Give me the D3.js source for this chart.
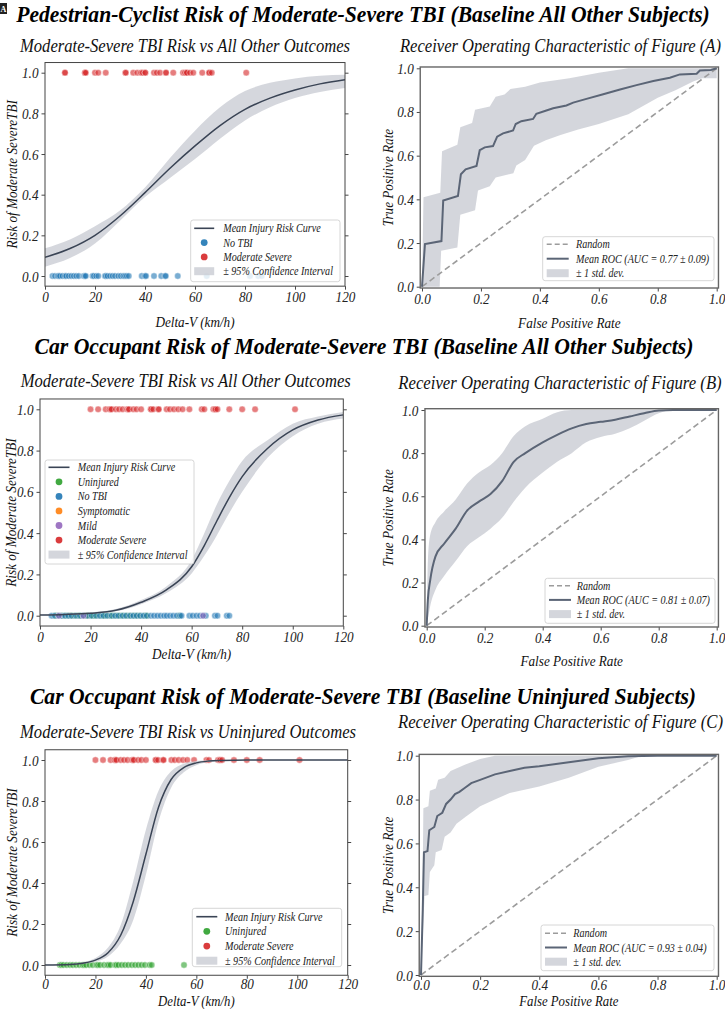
<!DOCTYPE html>
<html><head><meta charset="utf-8">
<script src="https://cdn.jsdelivr.net/npm/d3@7"></script>
<style>
body{margin:0;background:#fff}
svg{display:block}
text{font-family:"Liberation Serif","Times New Roman",Times,serif}
</style>
</head><body>
<svg id="c" width="725" height="1009"></svg>
<script>
// ---------------- DATA ----------------
const deltaVTicks = [0,20,40,60,80,100,120];
const unitTicks = [0,0.2,0.4,0.6,0.8,1.0];

// Panel A – Pedestrian-Cyclist
const gridA = [0,10,20,30,40,50,60,70,80,90,100,110,120];
const meanA = [0.092,0.135,0.2,0.295,0.41,0.53,0.64,0.74,0.82,0.875,0.915,0.945,0.965];
const lowA  = [0.046,0.088,0.16,0.272,0.388,0.482,0.575,0.675,0.765,0.83,0.875,0.905,0.925];
const highA = [0.136,0.18,0.245,0.322,0.435,0.58,0.715,0.83,0.91,0.95,0.972,0.985,0.99];
const pedNoTBI = [3,4,5,5.5,6,7,8,8.5,9.5,10.5,11.5,12.5,13.5,15.5,16,16.3,19,19.5,20.5,21.3,24,24.3,25,26,27,28,29.3,30.3,31.3,32,32.7,33.5,38.7,40,40.4,43.6,46.5,48,48.3,53.1,64.7,82,85.3,86.7];
const pedModSevere = [8,8,16,16,16.3,20,21.3,24.3,32.2,32.3,35.3,36.9,38.4,39,40.1,40.1,43.6,44.7,46,48.4,48.4,51.3,55.2,56,56.7,56.7,58,59.3,62.9,65.7,65.7,66.7,80.5];

// Panel B – Car occupant vs all other
const gridB = [0,10,20,30,40,50,60,65,70,75,80,90,100,110,120];
const meanB = [0.003,0.006,0.012,0.026,0.065,0.125,0.237,0.34,0.46,0.575,0.674,0.81,0.9,0.948,0.973];
const lowB  = [0.002,0.004,0.009,0.021,0.056,0.11,0.205,0.29,0.39,0.5,0.6,0.765,0.87,0.93,0.955];
const highB = [0.005,0.009,0.016,0.032,0.076,0.142,0.27,0.4,0.54,0.655,0.75,0.85,0.93,0.965,0.987];
const carModSevere = [20,23,26,27.5,28,28.3,30,31.3,32.7,34.5,35,35.2,36.9,38.2,40,43.8,44,44.8,46.8,47,50.1,51.4,53,54.7,56.4,59.1,64,65,68.6,69.2,69.5,70.2,74.9,80,85.1,100.9];
const carUninjured = [5.9,6.5,7.3,8.6,9.9,11,12.3,13.6,14.9,15.5,16.3,17.6,18.9,20.5,21,21.8,23.4,24.7,25.3,26,27.8,28.3,29.1,30.4,31.7,33,34.4,35.7,37,38.3,39.6,41.5,42.3,55.1];
const carNoTBI = [4.6,5.9,7.3,8.6,9.9,11.2,12.5,14.2,15.8,17.1,18.7,20.4,22.2,23.7,25.1,26.6,28.3,29.7,31,32.6,34,35.6,36.9,38.2,39.6,40.9,42.2,43.8,45.1,46.4,47.7,49.1,50.1,51.4,52.7,54.1,55.4,56,59.1,60.4,61.9,63.3,64.6,65.6,69.2,70.2,73.9,74.9];
const carSymptomatic = [12,18.5];
const carMild = [7.5,17.2,64.5];

// Panel C – Car occupant vs uninjured
const gridC = [0,10,15,20,25,30,35,40,45,50,55,60,65,70,80,90,120];
const meanC = [0.0005,0.003,0.009,0.024,0.06,0.145,0.31,0.54,0.77,0.905,0.963,0.986,0.995,0.998,1,1,1];
const lowC  = [0.0002,0.002,0.006,0.016,0.042,0.105,0.22,0.44,0.7,0.865,0.94,0.975,0.99,0.996,0.999,1,1];
const highC = [0.001,0.005,0.013,0.034,0.085,0.195,0.41,0.66,0.85,0.945,0.982,0.995,0.999,1,1,1,1];

// ROC curves [fpr, tpr]
const rocMeanA = [[0,0],[0.01,0.195],[0.066,0.209],[0.072,0.395],[0.122,0.415],[0.132,0.515],[0.148,0.537],[0.185,0.553],[0.196,0.625],[0.213,0.638],[0.241,0.644],[0.255,0.687],[0.275,0.702],[0.309,0.715],[0.318,0.745],[0.337,0.758],[0.377,0.768],[0.388,0.792],[0.422,0.807],[0.445,0.817],[0.49,0.83],[0.513,0.843],[0.558,0.86],[0.615,0.881],[0.672,0.903],[0.728,0.923],[0.785,0.942],[0.841,0.957],[0.875,0.972],[0.932,0.975],[0.943,0.99],[0.98,0.992],[1,1]];
const rocHighA = [[0,0],[0.005,0.41],[0.062,0.43],[0.068,0.62],[0.12,0.65],[0.13,0.73],[0.17,0.75],[0.18,0.81],[0.23,0.825],[0.25,0.87],[0.28,0.88],[0.3,0.905],[0.35,0.915],[0.4,0.935],[0.5,0.955],[0.6,0.98],[0.65,0.99],[0.7,1],[1,1]];
const rocLowA = [[0,0],[0.06,0],[0.065,0.165],[0.12,0.18],[0.13,0.33],[0.18,0.35],[0.19,0.44],[0.23,0.46],[0.25,0.5],[0.31,0.52],[0.32,0.555],[0.35,0.58],[0.38,0.645],[0.42,0.67],[0.47,0.695],[0.53,0.72],[0.6,0.745],[0.7,0.79],[0.8,0.865],[0.86,0.9],[0.92,0.94],[0.95,0.955],[1,0.955]];

const rocGridB = [0,0.004,0.012,0.03,0.06,0.1,0.14,0.18,0.22,0.26,0.3,0.34,0.4,0.45,0.5,0.55,0.6,0.65,0.7,0.75,0.8,0.85,0.9,1];
const rocMeanB = [0,0.12,0.21,0.32,0.38,0.45,0.535,0.575,0.61,0.67,0.76,0.8,0.85,0.885,0.915,0.935,0.945,0.955,0.97,0.985,0.998,1,1,1];
const rocHighB = [0,0.3,0.42,0.48,0.53,0.585,0.66,0.71,0.745,0.8,0.88,0.925,0.96,0.99,1,1,1,1,1,1,1,1,1,1];
const rocLowB  = [0,0.03,0.09,0.165,0.23,0.3,0.37,0.41,0.45,0.5,0.575,0.64,0.71,0.76,0.8,0.85,0.875,0.89,0.915,0.95,0.985,1,1,1];

const rocMeanC = [[0,0],[0.006,0.3],[0.01,0.56],[0.022,0.565],[0.028,0.66],[0.045,0.675],[0.055,0.725],[0.072,0.74],[0.085,0.78],[0.1,0.8],[0.115,0.825],[0.13,0.835],[0.15,0.855],[0.17,0.875],[0.2,0.89],[0.25,0.915],[0.3,0.93],[0.35,0.945],[0.4,0.952],[0.5,0.97],[0.6,0.988],[0.7,0.998],[0.8,1],[1,1]];
const rocHighC = [[0,0],[0.006,0.5],[0.008,0.76],[0.025,0.77],[0.03,0.84],[0.05,0.85],[0.058,0.89],[0.08,0.9],[0.1,0.93],[0.15,0.96],[0.2,0.985],[0.25,1],[1,1]];
const rocLowC = [[0,0],[0.012,0.36],[0.025,0.365],[0.03,0.47],[0.045,0.5],[0.05,0.56],[0.07,0.57],[0.08,0.63],[0.1,0.65],[0.12,0.69],[0.15,0.72],[0.2,0.77],[0.25,0.8],[0.3,0.83],[0.4,0.86],[0.5,0.9],[0.6,0.95],[0.7,0.98],[0.75,1],[1,1]];

const mainTitles = [
  "Pedestrian-Cyclist Risk of Moderate-Severe TBI (Baseline All Other Subjects)",
  "Car Occupant Risk of Moderate-Severe TBI (Baseline All Other Subjects)",
  "Car Occupant Risk of Moderate-Severe TBI (Baseline Uninjured Subjects)"
];
const aucLabels = ["Mean ROC (AUC = 0.77 \u00b1 0.09)","Mean ROC (AUC = 0.81 \u00b1 0.07)","Mean ROC (AUC = 0.93 \u00b1 0.04)"];

// ---------------- STYLE ----------------
const C = {blue:"#1f77b4", red:"#d62728", green:"#2ca02c", orange:"#ff7f0e", purple:"#9467bd",
  curve:"#3a4455", band:"#c9ccd3", roc:"#5b6576", rnd:"#9c9c9c"};
const COND = 0.88;          // glyphs are narrower than plain Times
const SY = 1/COND;          // so draw them smaller and stretch vertically

const svg = d3.select("#c");

function txt(g, x, y, s, o={}) {
  const sy = o.sy || SY;
  const base = o.size || 14;
  const grp = g.append("g").attr("transform",
    `translate(${x},${y})` + (o.rot ? " rotate(-90)" : "") + ` scale(1,${sy})`);
  const t = grp.append("text").attr("x",0).attr("y",0).text(s)
    .attr("font-size", base/sy).attr("font-style", o.style||"italic")
    .attr("font-weight", o.weight||"normal").attr("fill", o.fill||"#111")
    .attr("text-anchor", o.anchor||"middle");
  if (o.width) {
    const w = t.node().getComputedTextLength();
    t.attr("font-size", (base/sy) * o.width / w);
  }
  return t;
}

function styleAxis(a, orient, off) {
  a.select(".domain").remove();
  a.selectAll(".tick line").attr("stroke","#333").attr("stroke-width",0.9);
  const t = a.selectAll(".tick text").attr("font-size",15/SY).attr("font-style","italic")
    .attr("fill","#222").attr("font-family",'"Liberation Serif","Times New Roman",serif')
    .attr("dy",0).attr("transform",`scale(1,${SY})`);
  if (orient==="bottom") t.attr("y", (off||16)/SY);
  else t.attr("y", 5/SY);
}

function legend(g, L) {
  g.append("rect").attr("x",L.x).attr("y",L.y).attr("width",L.w).attr("height",L.h)
    .attr("rx",2.5).attr("fill","#fff").attr("fill-opacity",0.8)
    .attr("stroke","#cccccc").attr("stroke-width",0.8);
  L.items.forEach((it,i)=>{
    const cy = L.y + L.first + i*L.step;
    const hx0 = L.x + L.hx, hx1 = L.x + L.hx + L.hw;
    if (it.type==="line" || it.type==="dash") {
      const l = g.append("line").attr("x1",hx0).attr("x2",hx1).attr("y1",cy).attr("y2",cy)
        .attr("stroke",it.color).attr("stroke-width",it.w||1.6);
      if (it.type==="dash") l.attr("stroke-dasharray","5,3");
    } else if (it.type==="dot") {
      g.append("circle").attr("cx",(hx0+hx1)/2).attr("cy",cy).attr("r",3.4).attr("fill",it.color).attr("fill-opacity",0.9);
    } else {
      g.append("rect").attr("x",hx0).attr("y",cy-4).attr("width",hx1-hx0).attr("height",8)
        .attr("fill",C.band).attr("fill-opacity",0.8);
    }
    txt(g, L.x + L.tx, cy+4, it.label, {size:11.5, anchor:"start", fill:"#222"});
  });
}

function riskPanel(cfg) {
  const x = d3.scaleLinear().domain([0,120]).range([cfg.px0, cfg.px120]);
  const y = d3.scaleLinear().domain([0,1]).range([cfg.py0, cfg.py1]);
  const left=x(0), right=x(120), top=y(1.05), bottom=y(-0.05);
  const g = svg.append("g");
  const cid = "clip"+cfg.id;
  svg.append("clipPath").attr("id",cid).append("rect")
    .attr("x",left).attr("y",top).attr("width",right-left).attr("height",bottom-top);
  const p = g.append("g").attr("clip-path",`url(#${cid})`);
  cfg.groups.forEach(gr=>{
    p.append("g").selectAll("circle").data(gr.values).join("circle")
      .attr("cx",d=>x(d)).attr("cy",y(gr.level)).attr("r",3.2)
      .attr("fill",gr.color).attr("fill-opacity",0.6)
      .attr("stroke","#fff").attr("stroke-width",0.4);
  });
  const rows = cfg.grid.map((v,i)=>({v, m:cfg.mean[i], lo:cfg.lo[i], hi:cfg.hi[i]}));
  p.append("path").datum(rows)
    .attr("d", d3.area().x(d=>x(d.v)).y0(d=>y(d.lo)).y1(d=>y(d.hi)).curve(d3.curveMonotoneX))
    .attr("fill",C.band).attr("fill-opacity",0.78);
  p.append("path").datum(rows)
    .attr("d", d3.line().x(d=>x(d.v)).y(d=>y(d.m)).curve(d3.curveMonotoneX))
    .attr("fill","none").attr("stroke",C.curve).attr("stroke-width",1.5);

  const xa = g.append("g").attr("transform",`translate(0,${bottom})`)
    .call(d3.axisBottom(x).tickValues(deltaVTicks).tickFormat(d3.format("d")).tickSize(3.5).tickPadding(3));
  const ya = g.append("g").attr("transform",`translate(${left},0)`)
    .call(d3.axisLeft(y).tickValues(unitTicks).tickFormat(d3.format(".1f")).tickSize(3.5).tickPadding(3));
  const yr = g.append("g").attr("transform",`translate(${right},0)`)
    .call(d3.axisRight(y).tickValues(unitTicks).tickFormat("").tickSize(3.5));
  styleAxis(xa,"bottom",cfg.tickOff); styleAxis(ya,"left"); styleAxis(yr,"right");
  g.append("rect").attr("x",left).attr("y",top).attr("width",right-left).attr("height",bottom-top)
    .attr("fill","none").attr("stroke","#444").attr("stroke-width",1);

  txt(g, cfg.subX, cfg.subY, cfg.sub, {size:17.5, width:cfg.subLen});
  txt(g, (left+right)/2, cfg.xlY, "Delta-V (km/h)", {size:cfg.xlSize||15});
  txt(g, cfg.ylX, (top+bottom)/2, "Risk of Moderate SevereTBI", {size:15, rot:true});
  legend(g, cfg.legend);
}

function rocPanel(cfg) {
  const x = d3.scaleLinear().domain([0,1]).range([cfg.px0, cfg.px1]);
  const y = d3.scaleLinear().domain([0,1]).range([cfg.py0, cfg.py1]);
  const left=x(-0.006), right=x(1.006), top=y(1.006), bottom=y(-0.006);
  const g = svg.append("g");
  const cid = "clip"+cfg.id;
  svg.append("clipPath").attr("id",cid).append("rect")
    .attr("x",left).attr("y",top).attr("width",right-left).attr("height",bottom-top);
  const p = g.append("g").attr("clip-path",`url(#${cid})`);
  if (cfg.bandGrid) {
    const rows = cfg.bandGrid.map((v,i)=>({v, lo:cfg.bandLo[i], hi:cfg.bandHi[i]}));
    p.append("path").datum(rows)
      .attr("d", d3.area().x(d=>x(d.v)).y0(d=>y(d.lo)).y1(d=>y(d.hi)).curve(d3.curveMonotoneX))
      .attr("fill",C.band).attr("fill-opacity",0.8);
  } else {
    const poly = cfg.bandHi.concat(cfg.bandLo.slice().reverse());
    p.append("path").datum(poly)
      .attr("d", d3.line().x(d=>x(d[0])).y(d=>y(d[1])).curve(d3.curveLinearClosed))
      .attr("fill",C.band).attr("fill-opacity",0.8);
  }
  p.append("path").datum([[0,0],[1,1]])
    .attr("d", d3.line().x(d=>x(d[0])).y(d=>y(d[1])))
    .attr("stroke",C.rnd).attr("stroke-width",1.6).attr("stroke-dasharray","6,3.5").attr("fill","none");
  p.append("path").datum(cfg.mean)
    .attr("d", d3.line().x(d=>x(d[0])).y(d=>y(d[1])).curve(cfg.smooth ? d3.curveMonotoneX : d3.curveLinear))
    .attr("fill","none").attr("stroke",C.roc).attr("stroke-width",2);

  const xa = g.append("g").attr("transform",`translate(0,${bottom})`)
    .call(d3.axisBottom(x).tickValues(unitTicks).tickFormat(d3.format(".1f")).tickSize(3.5).tickPadding(3));
  const ya = g.append("g").attr("transform",`translate(${left},0)`)
    .call(d3.axisLeft(y).tickValues(unitTicks).tickFormat(d3.format(".1f")).tickSize(3.5).tickPadding(3));
  styleAxis(xa,"bottom",cfg.tickOff); styleAxis(ya,"left");
  g.append("rect").attr("x",left).attr("y",top).attr("width",right-left).attr("height",bottom-top)
    .attr("fill","none").attr("stroke","#666").attr("stroke-width",1.4);

  txt(g, cfg.subX, cfg.subY, cfg.sub, {size:17.5, width:cfg.subLen});
  txt(g, (left+right)/2, cfg.xlY, "False Positive Rate", {size:cfg.xlSize||15});
  txt(g, cfg.ylX, (top+bottom)/2, "True Positive Rate", {size:15, rot:true});
  legend(g, cfg.legend);
}

// ---------------- LAYOUT ----------------
svg.append("rect").attr("x",0).attr("y",3).attr("width",7).attr("height",11).attr("fill","#222");
txt(svg, 3.5, 12, "A", {size:8, sy:1, style:"normal", weight:"bold", fill:"#fff"});

txt(svg, 363, 21.5, mainTitles[0], {size:24, sy:1.06, weight:"bold", width:694, fill:"#000"});
txt(svg, 364, 354, mainTitles[1], {size:24, sy:1.08, weight:"bold", width:659, fill:"#000"});
txt(svg, 363, 704, mainTitles[2], {size:24, sy:1.08, weight:"bold", width:666, fill:"#000"});

const legLeftItems = (extra)=>[{type:"line",color:C.curve,label:"Mean Injury Risk Curve"}]
  .concat(extra).concat([{type:"patch",label:"\u00b1 95% Confidence Interval"}]);
const rocItems = (auc)=>[
  {type:"dash",color:C.rnd,label:"Random"},
  {type:"line",color:C.roc,w:2,label:auc},
  {type:"patch",label:"\u00b1 1 std. dev."}];

riskPanel({id:"A", px0:45, px120:345, py0:276, py1:72.7,
  grid:gridA, mean:meanA, lo:lowA, hi:highA,
  groups:[{values:pedNoTBI,level:0,color:C.blue},{values:pedModSevere,level:1,color:C.red}],
  sub:"Moderate-Severe TBI Risk vs All Other Outcomes", subX:185, subY:52, subLen:330,
  xlY:327, ylX:17,
  legend:{x:190.7,y:220,w:149.3,h:61.7,first:8.3,step:14.3,hx:3.5,hw:20,tx:32.5,
    items:legLeftItems([{type:"dot",color:C.blue,label:"No TBI"},{type:"dot",color:C.red,label:"Moderate Severe"}])}});

rocPanel({id:"RA", px0:422, px1:716.7, py0:286.7, py1:68.3,
  mean:rocMeanA, bandHi:rocHighA, bandLo:rocLowA, smooth:false,
  sub:"Receiver Operating Characteristic of Figure (A)", subX:560.5, subY:52, subLen:321,
  xlY:328, ylX:393,
  legend:{x:542.7,y:236.7,w:171.3,h:44,first:7.5,step:14.5,hx:4,hw:22,tx:33.3, items:rocItems(aucLabels[0])}});

riskPanel({id:"B", px0:40, px120:343.3, py0:615.7, py1:409.3,
  grid:gridB, mean:meanB, lo:lowB, hi:highB,
  groups:[{values:carSymptomatic,level:0,color:C.orange},{values:carUninjured,level:0,color:C.green},
    {values:carNoTBI,level:0,color:C.blue},{values:carMild,level:0,color:C.purple},
    {values:carModSevere,level:1,color:C.red}],
  sub:"Moderate-Severe TBI Risk vs All Other Outcomes", subX:185.7, subY:387, subLen:330,
  xlY:658.5, ylX:16,
  legend:{x:45,y:460,w:149,h:104,first:7.3,step:14.55,hx:3.5,hw:21,tx:32.7,
    items:legLeftItems([{type:"dot",color:C.green,label:"Uninjured"},{type:"dot",color:C.blue,label:"No TBI"},
      {type:"dot",color:C.orange,label:"Symptomatic"},{type:"dot",color:C.purple,label:"Mild"},
      {type:"dot",color:C.red,label:"Moderate Severe"}])}});

rocPanel({id:"RB", px0:426.7, px1:716.7, py0:625.7, py1:410,
  mean:rocGridB.map((v,i)=>[v,rocMeanB[i]]), bandGrid:rocGridB, bandHi:rocHighB, bandLo:rocLowB, smooth:true,
  sub:"Receiver Operating Characteristic of Figure (B)", subX:560, subY:389, subLen:323,
  xlY:665.5, ylX:393,
  legend:{x:545,y:578.3,w:170,h:45,first:7.4,step:14.2,hx:4,hw:22,tx:31.7, items:rocItems(aucLabels[1])}});

riskPanel({id:"C", px0:45, px120:347.7, py0:965, py1:760,
  grid:gridC, mean:meanC, lo:lowC, hi:highC,
  groups:[{values:carUninjured,level:0,color:C.green},{values:carModSevere,level:1,color:C.red}],
  sub:"Moderate-Severe TBI Risk vs Uninjured Outcomes", subX:188, subY:738, subLen:336,
  xlY:1005.5, xlSize:14.5, tickOff:14, ylX:17,
  legend:{x:192.3,y:908.3,w:149.4,h:58.4,first:8.4,step:14.67,hx:4,hw:21,tx:32.7,
    items:legLeftItems([{type:"dot",color:C.green,label:"Uninjured"},{type:"dot",color:C.red,label:"Moderate Severe"}])}});

rocPanel({id:"RC", px0:421, px1:716.7, py0:975, py1:755.7,
  mean:rocMeanC, bandHi:rocHighC, bandLo:rocLowC, smooth:false,
  sub:"Receiver Operating Characteristic of Figure (C)", subX:560.5, subY:728, subLen:325,
  xlY:1005.5, xlSize:14.5, tickOff:13.5, ylX:393,
  legend:{x:541,y:925,w:173,h:45.7,first:8.3,step:14.2,hx:4,hw:22,tx:32.3, items:rocItems(aucLabels[2])}});
</script>
</body></html>
